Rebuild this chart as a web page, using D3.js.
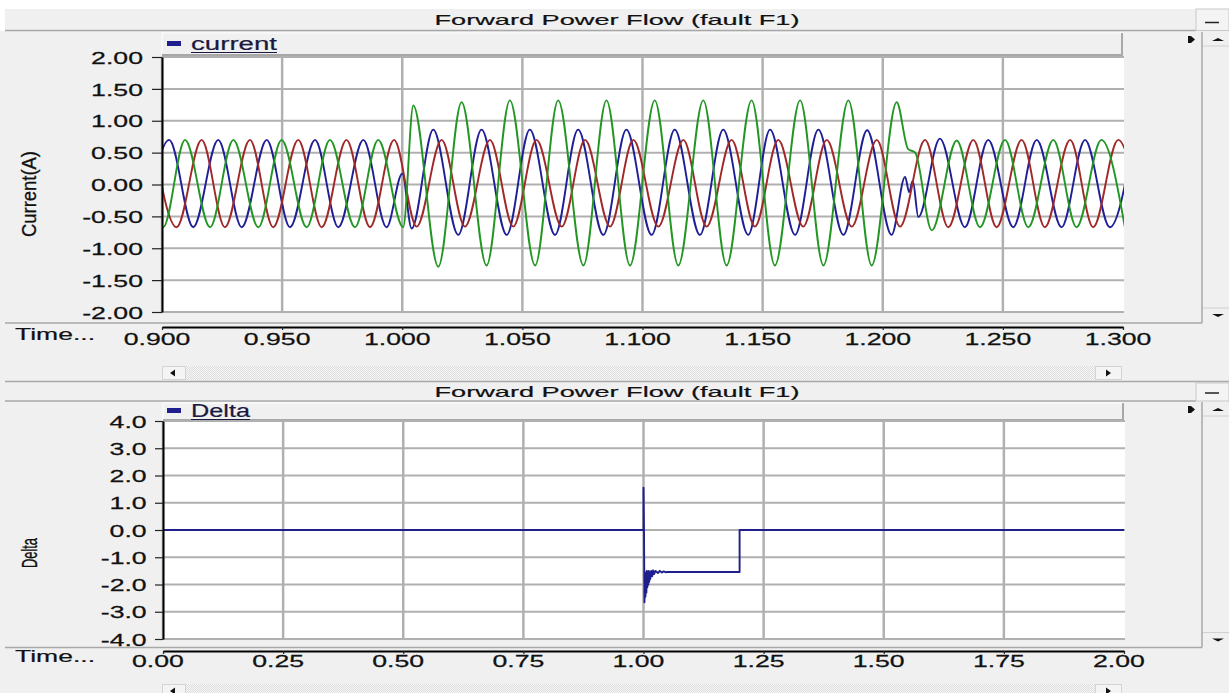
<!DOCTYPE html>
<html><head><meta charset="utf-8">
<script src="https://cdn.jsdelivr.net/npm/d3@7"></script>
<style>
html,body{margin:0;padding:0;background:#fff;overflow:hidden}
svg{display:block}
</style></head><body>
<svg id="c" width="1229" height="693"></svg>
<script>
// ---------------- DATA ----------------
const titleText = "Forward Power Flow (fault F1)";
const currentLegend = "current";
const deltaLegend = "Delta";
const currentYLabel = "Current(A)";
const deltaYLabel = "Delta";
const timeLabel = "Time...";

const currentTimeTicks = [0.900, 0.950, 1.000, 1.050, 1.100, 1.150, 1.200, 1.250, 1.300];
const currentValueTicks = [-2.0, -1.5, -1.0, -0.5, 0.0, 0.5, 1.0, 1.5, 2.0];
const deltaTimeTicks = [0.00, 0.25, 0.50, 0.75, 1.00, 1.25, 1.50, 1.75, 2.00];
const deltaValueTicks = [-4, -3, -2, -1, 0, 1, 2, 3, 4];

// extrema of each phase current: [time (s), current (A)]
const phaseA = [[0.8930,-0.67],[0.9030,0.70],[0.9130,-0.67],[0.9234,0.70],[0.9332,-0.67],[0.9436,0.70],[0.9533,-0.67],[0.9637,0.70],[0.9734,-0.67],[0.9838,0.70],[0.9935,-0.67],[1.0000,0.17],[1.0039,-0.69],[1.0129,0.86],[1.0233,-0.79],[1.0330,0.86],[1.0435,-0.79],[1.0531,0.86],[1.0636,-0.79],[1.0732,0.86],[1.0837,-0.79],[1.0933,0.86],[1.1038,-0.79],[1.1134,0.86],[1.1239,-0.79],[1.1336,0.86],[1.1440,-0.79],[1.1531,0.86],[1.1635,-0.79],[1.1732,0.86],[1.1836,-0.79],[1.1935,0.85],[1.2037,-0.79],[1.2093,0.12],[1.2110,-0.12],[1.2125,0.06],[1.2148,-0.51],[1.2238,0.72],[1.2342,-0.67],[1.2439,0.70],[1.2543,-0.67],[1.2641,0.70],[1.2744,-0.67],[1.2842,0.70],[1.2945,-0.67],[1.3043,0.70]];
const phaseB = [[0.8963,0.70],[0.9061,-0.67],[0.9165,0.70],[0.9262,-0.67],[0.9366,0.70],[0.9463,-0.67],[0.9567,0.70],[0.9665,-0.67],[0.9768,0.70],[0.9866,-0.67],[0.9966,0.70],[1.0060,-0.66],[1.0164,0.70],[1.0261,-0.66],[1.0365,0.70],[1.0462,-0.66],[1.0559,0.70],[1.0664,-0.66],[1.0761,0.70],[1.0865,-0.66],[1.0962,0.70],[1.1066,-0.66],[1.1170,0.70],[1.1267,-0.66],[1.1371,0.70],[1.1468,-0.66],[1.1565,0.70],[1.1669,-0.66],[1.1767,0.70],[1.1871,-0.66],[1.1975,0.70],[1.2072,-0.66],[1.2176,0.70],[1.2273,-0.67],[1.2377,0.70],[1.2474,-0.67],[1.2578,0.70],[1.2675,-0.67],[1.2780,0.70],[1.2876,-0.67],[1.2980,0.70],[1.3077,-0.67]];
const phaseC = [[0.8895,0.70],[0.9005,-0.67],[0.9096,0.70],[0.9200,-0.67],[0.9297,0.70],[0.9401,-0.67],[0.9498,0.70],[0.9602,-0.67],[0.9699,0.70],[0.9803,-0.67],[0.9900,0.70],[1.0004,-0.67],[1.0046,1.24],[1.0150,-1.29],[1.0247,1.29],[1.0351,-1.27],[1.0448,1.32],[1.0553,-1.27],[1.0649,1.32],[1.0754,-1.27],[1.0850,1.32],[1.0948,-1.27],[1.1051,1.32],[1.1149,-1.27],[1.1253,1.32],[1.1350,-1.27],[1.1454,1.32],[1.1551,-1.27],[1.1656,1.32],[1.1753,-1.27],[1.1857,1.32],[1.1954,-1.27],[1.2058,1.29],[1.2105,0.56],[1.2135,0.50],[1.2204,-0.72],[1.2308,0.69],[1.2405,-0.67],[1.2509,0.70],[1.2606,-0.67],[1.2710,0.70],[1.2807,-0.67],[1.2910,0.70],[1.3008,-0.67]];

// Delta signal: [time (s), value]
const deltaSeries = [[0,0],[1.000,0],[1.000,1.55],[1.001,0],[1.002,-2.65],[1.003,-1.55],[1.004,-2.45],[1.005,-1.6],[1.006,-2.3],[1.007,-1.5],[1.008,-2.1],[1.009,-1.6],[1.010,-2.0],[1.011,-1.5],[1.012,-1.9],[1.013,-1.55],[1.014,-1.8],[1.016,-1.5],[1.018,-1.7],[1.020,-1.48],[1.022,-1.62],[1.025,-1.5],[1.030,-1.58],[1.034,-1.5],[1.038,-1.56],[1.042,-1.52],[1.046,-1.55],[1.050,-1.54],[1.200,-1.54],[1.200,0],[2.0,0]];

const phaseColors = ["#1e1e96", "#a02828", "#229622"];

// ---------------- DRAWING ----------------
const svg = d3.select("#c");
const SX = 1.57;
const FONT = "'Liberation Sans', Arial, sans-serif";
const defs = svg.append("defs");
const pat = defs.append("pattern").attr("id","hatch").attr("width",2).attr("height",2).attr("patternUnits","userSpaceOnUse");
pat.append("rect").attr("width",2).attr("height",2).attr("fill","#f5f5f5");
pat.append("rect").attr("width",1).attr("height",1).attr("fill","#dedede");
pat.append("rect").attr("x",1).attr("y",1).attr("width",1).attr("height",1).attr("fill","#dedede");

svg.append("rect").attr("width",1229).attr("height",693).attr("fill","#f0f0f0");
svg.append("rect").attr("width",1229).attr("height",9).attr("fill","#ffffff");
svg.append("rect").attr("x",0).attr("y",9).attr("width",5).attr("height",22).attr("fill","#ffffff");

function txt(g, x, y, s, o = {}) {
  const t = g.append("text")
    .attr("font-family", FONT).attr("font-size", o.fs || 17)
    .attr("fill", o.fill || "#111").attr("text-anchor", o.anchor || "start")
    .attr("stroke", o.fill || "#111").attr("stroke-width", 0.2)
    .text(s);
  if (o.rot) {
    t.attr("transform", `translate(${x},${y}) scale(${SX},1) rotate(${o.rot})`);
    if (o.len) t.attr("textLength", o.len).attr("lengthAdjust","spacingAndGlyphs");
  } else if (o.len) {
    t.attr("x", x).attr("y", y).attr("textLength", o.len).attr("lengthAdjust","spacingAndGlyphs");
  } else {
    t.attr("transform", `translate(${x},${y}) scale(${SX},1)`);
  }
  return t;
}

function panel(c) {
  const g = svg.append("g");
  // title bar
  g.append("line").attr("x1",5).attr("x2",1196).attr("y1",c.titleBottom).attr("y2",c.titleBottom).attr("stroke","#a8a8a8").attr("stroke-width",1.5);
  txt(g, 617, c.titleBase, titleText, {fs:15, anchor:"middle", len:365});
  // minimize button
  g.append("rect").attr("x",1196).attr("y",c.titleTop).attr("width",33).attr("height",c.titleBottom-c.titleTop).attr("fill","#f4f4f4").attr("stroke","#c8c8c8");
  g.append("line").attr("x1",1205).attr("x2",1219).attr("y1",c.titleBottom-8).attr("y2",c.titleBottom-8).attr("stroke","#222").attr("stroke-width",1.5);

  // legend bar
  g.append("rect").attr("x",c.x0).attr("y",c.legTop).attr("width",c.x1-c.x0).attr("height",c.legBottom-c.legTop).attr("fill","#f0f0f0");
  g.append("polyline").attr("points",`${c.x0},${c.legBottom} ${c.x0},${c.legTop} ${c.x1},${c.legTop}`).attr("fill","none").attr("stroke","#fafafa").attr("stroke-width",1.5);
  g.append("polyline").attr("points",`${c.x0},${c.legBottom-1} ${c.x1-1},${c.legBottom-1} ${c.x1-1},${c.legTop}`).attr("fill","none").attr("stroke","#a8a8a8").attr("stroke-width",2);
  g.append("rect").attr("x",167).attr("y",c.legMarkY).attr("width",14).attr("height",5).attr("fill","#1e1e8c");
  txt(g, 191, c.legBase, c.legend, {fs:18, len:c.legLen, fill:"#1a1a40"});
  g.append("line").attr("x1",191).attr("x2",191+c.legLen).attr("y1",c.legBase+2.5).attr("y2",c.legBase+2.5).attr("stroke","#1a1a40").attr("stroke-width",1.2);

  // right side marker & vertical scrollbar
  g.append("path").attr("d",`M1188,${c.legTop+3}h3l4,3.5l-4,3.5h-3z`).attr("fill","#111");
  g.append("line").attr("x1",1202).attr("x2",1202).attr("y1",c.legTop-1).attr("y2",c.sepY).attr("stroke","#a8a8a8").attr("stroke-width",1.5);
  g.append("line").attr("x1",1203).attr("x2",1229).attr("y1",c.legTop+13).attr("y2",c.legTop+13).attr("stroke","#d0d0d0");
  g.append("path").attr("d",`M1212,${c.legTop+8}l6,-3l6,3z`).attr("fill","#111");
  g.append("line").attr("x1",1203).attr("x2",1229).attr("y1",c.sepY-15).attr("y2",c.sepY-15).attr("stroke","#d0d0d0");
  g.append("path").attr("d",`M1212,${c.sepY-9}l6,3l6,-3z`).attr("fill","#111");
  // separator above x axis
  g.append("line").attr("x1",5).attr("x2",1202).attr("y1",c.sepY).attr("y2",c.sepY).attr("stroke","#a8a8a8").attr("stroke-width",1.5);

  // plot area
  const x = d3.scaleLinear().domain(c.xDomain).range([c.x0, c.x1]);
  const y = d3.scaleLinear().domain(c.yDomain).range([c.yB, c.yT]);
  g.append("rect").attr("x",c.x0).attr("y",c.yT).attr("width",c.x1-c.x0+1).attr("height",c.yB-c.yT).attr("fill","#ffffff");
  g.append("g").selectAll("line").data(c.yTicks).join("line")
    .attr("x1",c.x0).attr("x2",c.x1+1).attr("y1",d=>y(d)).attr("y2",d=>y(d))
    .attr("stroke","#b0b0b0").attr("stroke-width",2);
  g.append("g").selectAll("line").data(c.xTicks.slice(0,-1)).join("line")
    .attr("x1",d=>x(d)).attr("x2",d=>x(d)).attr("y1",c.yT).attr("y2",c.yB)
    .attr("stroke","#b0b0b0").attr("stroke-width",2.5);

  const clipId = "clip" + c.id;
  defs.append("clipPath").attr("id",clipId).append("rect").attr("x",c.x0).attr("y",c.yT-1).attr("width",c.x1-c.x0+1).attr("height",c.yB-c.yT+2);
  const lg = g.append("g").attr("clip-path",`url(#${clipId})`);
  const line = d3.line().x(d=>x(d[0])).y(d=>y(d[1])).curve(c.curve);
  c.series.forEach((s,i) => {
    lg.append("path").datum(s).attr("d",line).attr("fill","none")
      .attr("stroke",c.colors[i]).attr("stroke-width",1.9).attr("stroke-linejoin","round");
  });

  // y axis
  const ya = g.append("g").attr("transform",`translate(${c.x0},0)`)
    .call(d3.axisLeft(y).tickValues(c.yTicks).tickSizeInner(c.yTickLen).tickSizeOuter(0).tickFormat(d=>d.toFixed(c.yDec)));
  ya.select(".domain").attr("stroke","#000").attr("stroke-width",2);
  ya.selectAll(".tick line").attr("stroke","#222").attr("stroke-width",1.2);
  ya.selectAll(".tick text").attr("x", -c.yLabGap/SX).attr("dy","0.36em")
    .attr("transform",`scale(${SX},1)`).attr("font-family",FONT).attr("font-size",17)
    .attr("fill","#111").attr("stroke","#111").attr("stroke-width",0.25);

  // x axis
  const xa = g.append("g").attr("transform",`translate(0,${c.axisY})`)
    .call(d3.axisBottom(x).tickValues(c.xTicks).tickSizeInner(3).tickSizeOuter(0).tickFormat(d=>d.toFixed(c.xDec)));
  xa.select(".domain").attr("stroke","#000").attr("stroke-width",2);
  xa.selectAll(".tick line").attr("stroke","#222").attr("stroke-width",1.2);
  xa.selectAll(".tick text").attr("x", -5.5/SX).attr("y", c.xLabY).attr("dy","0")
    .attr("transform",`scale(${SX},1)`).attr("font-family",FONT).attr("font-size",17)
    .attr("fill","#111").attr("stroke","#111").attr("stroke-width",0.25);

  // axis labels
  txt(g, 15, c.axisY + c.xLabY - 5, timeLabel, {fs:16, len:80});
  txt(g, c.yLabX, c.yLabY, c.yLabel, {fs:c.yLabFs, anchor:"middle", rot:-90, len:c.yLabLen});

  // horizontal scrollbar
  const hs = c.hsY;
  g.append("rect").attr("x",186).attr("y",hs).attr("width",909).attr("height",14).attr("fill","url(#hatch)");
  g.append("rect").attr("x",162.5).attr("y",hs+0.5).attr("width",23).attr("height",13).attr("fill","#f4f4f4").attr("stroke","#d4d4d4");
  g.append("rect").attr("x",1095.5).attr("y",hs+0.5).attr("width",26).attr("height",13).attr("fill","#f4f4f4").attr("stroke","#d4d4d4");
  g.append("path").attr("d",`M175,${hs+3.5}v7l-5,-3.5z`).attr("fill","#111");
  g.append("path").attr("d",`M1106,${hs+3.5}v7l5,-3.5z`).attr("fill","#111");
  return g;
}

panel({
  id: "top", titleTop: 9, titleBottom: 30.5, titleBase: 25,
  legTop: 33, legBottom: 56, legMarkY: 41, legBase: 50, legend: currentLegend, legLen: 86,
  sepY: 323, x0: 162, x1: 1123, yT: 57, yB: 312,
  xDomain: [0.9, 1.3], yDomain: [-2, 2], xTicks: currentTimeTicks, yTicks: currentValueTicks,
  xDec: 3, yDec: 2, yTickLen: 10, yLabGap: 19, axisY: 327, xLabY: 18,
  series: [phaseA, phaseB, phaseC], colors: phaseColors, curve: d3.curveMonotoneX,
  yLabel: currentYLabel, yLabX: 36, yLabY: 194, yLabLen: 86, yLabFs: 13, hsY: 366
});
svg.append("line").attr("x1",5).attr("x2",1229).attr("y1",381.5).attr("y2",381.5).attr("stroke","#a8a8a8").attr("stroke-width",1.5);
panel({
  id: "bot", titleTop: 383, titleBottom: 401, titleBase: 397,
  legTop: 403, legBottom: 421, legMarkY: 408, legBase: 417, legend: deltaLegend, legLen: 59,
  sepY: 647.5, x0: 163, x1: 1124, yT: 421, yB: 639,
  xDomain: [0, 2], yDomain: [-4, 4], xTicks: deltaTimeTicks, yTicks: deltaValueTicks,
  xDec: 2, yDec: 1, yTickLen: 8, yLabGap: 16.3, axisY: 651, xLabY: 16,
  series: [deltaSeries], colors: ["#1e1e8c"], curve: d3.curveLinear,
  yLabel: deltaYLabel, yLabX: 37, yLabY: 553, yLabLen: 30, yLabFs: 14, hsY: 684
});
</script>
</body></html>
